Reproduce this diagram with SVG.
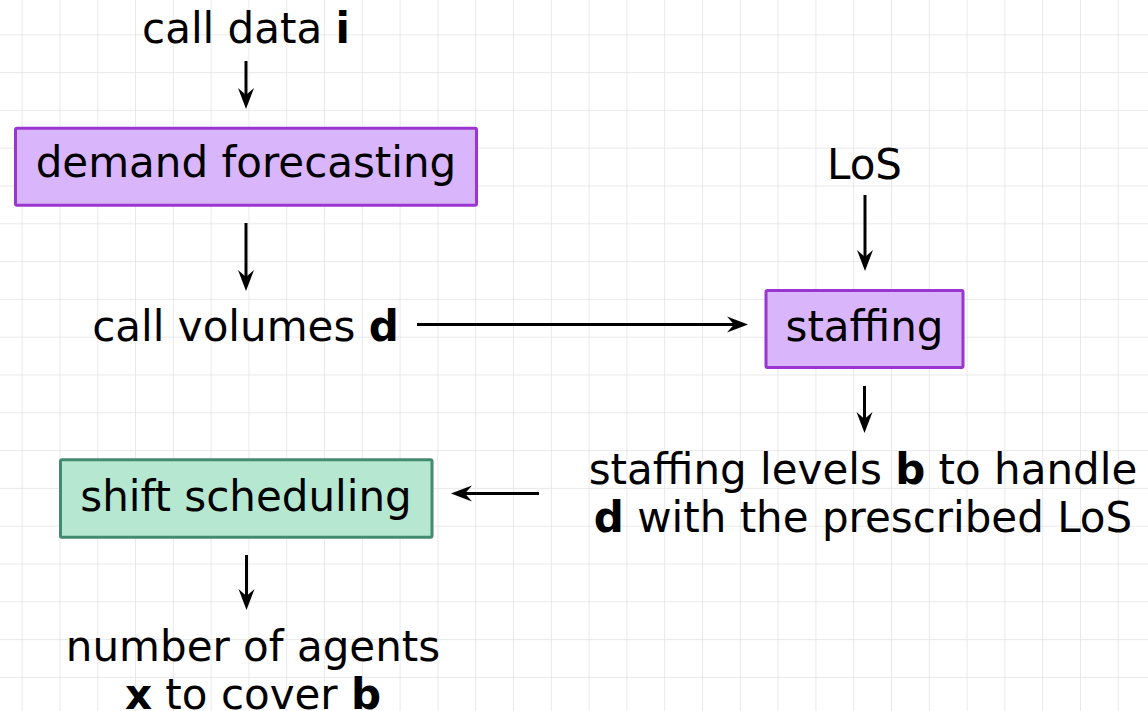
<svg xmlns="http://www.w3.org/2000/svg" width="1148" height="711" viewBox="0 0 1148 711">
  <style>
    .lbl { font-family: "DejaVu Sans", "Liberation Sans", sans-serif; font-size: 42px; fill: #000; text-anchor: middle; }
    .b { font-weight: bold; }
    .purple { fill: #d9b5fc; stroke: #9a36cf; stroke-width: 3; }
    .green { fill: #b6e7d0; stroke: #438b6f; stroke-width: 3; }
    .edge { fill: none; stroke: #000; stroke-width: 3; marker-end: url(#arrow); }
  </style>
  <defs>
    <pattern id="grid" patternUnits="userSpaceOnUse" x="21.6" y="34.3" width="37.8" height="37.8">
      <path d="M0,0 H37.8 M0,0 V37.8" fill="none" stroke="#e2e2e2" stroke-width="1.5"/>
    </pattern>
    <marker id="arrow" markerUnits="userSpaceOnUse" orient="auto" refX="0" refY="0" markerWidth="30" markerHeight="20" overflow="visible">
      <path d="M10,0 L-11,-8 L-4,0 L-11,8 Z" fill="#000"/>
    </marker>
  </defs>

  <!-- background grid -->
  <rect width="1148" height="711" fill="#fff"/>
  <rect width="1148" height="711" fill="url(#grid)"/>

  <!-- connectors -->
  <g id="connectors">
    <path class="edge" d="M246,61 V99"/>
    <path class="edge" d="M246,223 V281"/>
    <path class="edge" d="M417,324.5 H738"/>
    <path class="edge" d="M865,195 V261"/>
    <path class="edge" d="M864.5,386 V423"/>
    <path class="edge" d="M539,493.5 H461"/>
    <path class="edge" d="M246.5,555 V600"/>
  </g>

  <!-- input: call data -->
  <g id="call-data">
    <text class="lbl" x="246" y="43">call data <tspan class="b">i</tspan></text>
  </g>

  <!-- demand forecasting -->
  <g id="demand-forecasting">
    <rect class="purple" x="15.5" y="128.2" width="461" height="77" rx="1.5"/>
    <text class="lbl" x="246" y="177">demand forecasting</text>
  </g>

  <!-- call volumes -->
  <g id="call-volumes">
    <text class="lbl" x="245.5" y="341">call volumes <tspan class="b">d</tspan></text>
  </g>

  <!-- level of service -->
  <g id="los">
    <text class="lbl" x="864.5" y="179">LoS</text>
  </g>

  <!-- staffing -->
  <g id="staffing">
    <rect class="purple" x="766" y="290.5" width="197" height="77" rx="1.5"/>
    <text class="lbl" x="864.5" y="341">staffing</text>
  </g>

  <!-- staffing levels -->
  <g id="staffing-levels">
    <text class="lbl" x="863" y="483.5">staffing levels <tspan class="b">b</tspan> to handle</text>
    <text class="lbl" x="863" y="531.5"><tspan class="b">d</tspan> with the prescribed LoS</text>
  </g>

  <!-- shift scheduling -->
  <g id="shift-scheduling">
    <rect class="green" x="60.5" y="459.8" width="371.5" height="77.5" rx="1.5"/>
    <text class="lbl" x="246" y="510.7">shift scheduling</text>
  </g>

  <!-- number of agents -->
  <g id="agents">
    <text class="lbl" x="253" y="660.5">number of agents</text>
    <text class="lbl" x="253" y="708.5"><tspan class="b">x</tspan> to cover <tspan class="b">b</tspan></text>
  </g>
</svg>
